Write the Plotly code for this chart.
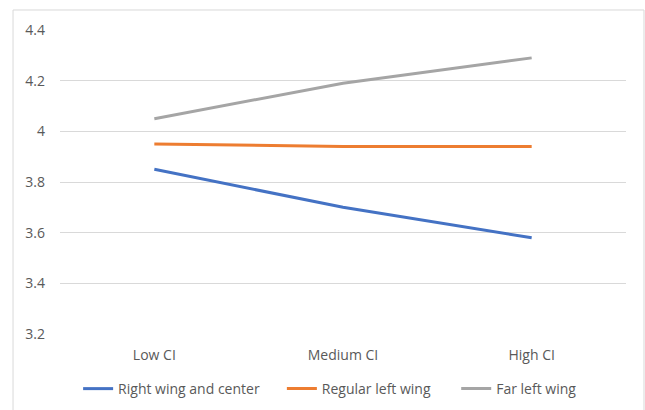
import plotly.graph_objects as go

categories = ["Low CI", "Medium CI", "High CI"]
right_wing_center = [3.85, 3.70, 3.58]
regular_left = [3.95, 3.94, 3.94]
far_left = [4.05, 4.19, 4.29]
y_ticks = [3.2, 3.4, 3.6, 3.8, 4.0, 4.2, 4.4]
y_tick_labels = ["3.2", "3.4", "3.6", "3.8", "4", "4.2", "4.4"]

series = [
    ("Right wing and center", right_wing_center, "#4472C4", "legend", 0.032),
    ("Regular left wing", regular_left, "#ED7D31", "legend2", 0.392),
    ("Far left wing", far_left, "#A5A5A5", "legend3", 0.700),
]

fig = go.Figure()
legend_layouts = {}
for name, vals, color, leg, lx in series:
    fig.add_trace(go.Scatter(x=categories, y=vals, mode="lines", name=name,
                             line=dict(color=color, width=3), legend=leg))
    legend_layouts[leg] = dict(orientation="h", x=lx, xanchor="left", y=-0.181,
                               yanchor="middle", font=dict(size=14, color="#595959"),
                               itemwidth=30, bgcolor="rgba(0,0,0,0)")

font_family = "Open Sans, sans-serif"
fig.update_layout(
    width=645, height=410,
    margin=dict(l=60, r=19, t=30, b=76, autoexpand=False),
    paper_bgcolor="white", plot_bgcolor="white",
    font=dict(family=font_family, size=14, color="#595959"),
    xaxis=dict(type="category", range=[-0.5, 2.5], showgrid=False, showline=False,
               zeroline=False, ticks="", tickfont=dict(size=14, color="#595959"),
               ticklabelstandoff=11, automargin=False),
    yaxis=dict(range=[3.2, 4.4], tickvals=y_ticks, ticktext=y_tick_labels,
               showgrid=True, gridcolor="#D9D9D9", gridwidth=1, zeroline=False,
               showline=False, ticks="", ticklabelstandoff=14, automargin=False,
               tickfont=dict(size=14, color="#595959")),
    showlegend=True,
    **legend_layouts,
)
fig.add_shape(type="rect", xref="paper", yref="paper",
              x0=-0.083, x1=1.0318, y0=-0.26, y1=1.0658,
              line=dict(color="#D9D9D9", width=1), fillcolor="rgba(0,0,0,0)", layer="below")

fig.write_html("out.html",
               config={"displayModeBar": False},
               post_script="document.body.style.margin='0';document.body.style.overflow='hidden';")
